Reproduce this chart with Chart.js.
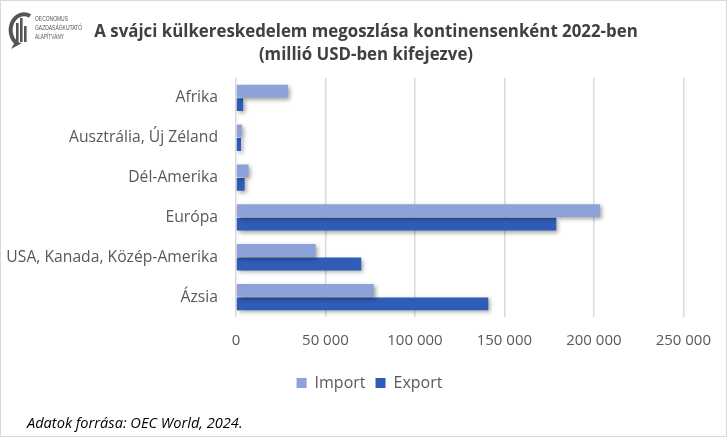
<!DOCTYPE html>
<html lang="hu">
<head>
<meta charset="utf-8">
<title>Svájci külkereskedelem</title>
<script src="https://cdn.jsdelivr.net/npm/chart.js@4"></script>
<style>
  html, body { margin: 0; padding: 0; background: #fff; }
  #wrap {
    position: relative;
    width: 725px;
    height: 435px;
    border: 1px solid #d9d9d9;
    font-family: "Open Sans", "Noto Sans", sans-serif;
  }
  #chart { position: absolute; left: 0; top: 0; }
  #logo { position: absolute; left: 0; top: 0; }
  #title {
    position: absolute;
    left: 0;
    width: 730px;
    top: 18px;
    text-align: center;
    font-weight: bold;
    font-size: 16.85px;
    line-height: 23px;
    color: #404040;
  }
  #source {
    position: absolute;
    left: 26px;
    top: 411px;
    font-style: italic;
    font-size: 14.6px;
    color: #000;
  }
</style>
</head>
<body>
<div id="wrap">
  <canvas id="chart" width="725" height="435"></canvas>
  <svg id="logo" width="100" height="52" viewBox="0 0 100 52">
    <path d="M29 15 A11.5 13.5 0 1 0 17 43" fill="none" stroke="#555" stroke-width="4"/>
    <rect x="15" y="22" width="2.6" height="19" fill="#555"/>
    <rect x="19" y="17" width="2.6" height="24" fill="#555"/>
    <rect x="23" y="25" width="2.6" height="16" fill="#555"/>
    <path d="M14 41 L10 48 L21 42 Z" fill="#555"/>
    <g font-size="7" fill="#555" font-family="Liberation Sans Narrow, Liberation Sans, sans-serif">
      <text x="34" y="20" textLength="33" lengthAdjust="spacingAndGlyphs">OECONOMUS</text>
      <text x="34" y="29" textLength="47" lengthAdjust="spacingAndGlyphs">GAZDASÁGKUTATÓ</text>
      <text x="34" y="38" textLength="29" lengthAdjust="spacingAndGlyphs">ALAPÍTVÁNY</text>
    </g>
  </svg>
  <div id="title">A svájci külkereskedelem megoszlása kontinensenként 2022-ben<br>(millió USD-ben kifejezve)</div>
  <div id="source">Adatok forrása: OEC World, 2024.</div>
</div>
<script>
// kategóriák (felülről lefelé)
const categories = ['Afrika', 'Ausztrália, Új Zéland', 'Dél-Amerika', 'Európa', 'USA, Kanada, Közép-Amerika', 'Ázsia'];
// értékek millió USD-ben
const importValues = [29000, 3300, 7000, 203500, 44500, 77000];
const exportValues = [4000, 2800, 4800, 179000, 70000, 141000];
const xTicks = [0, 50000, 100000, 150000, 200000, 250000];

const fmt = v => String(v).replace(/\B(?=(\d{3})+(?!\d))/g, ' ');
const baseFont = '"Open Sans", "Noto Sans", sans-serif';

// árnyék a sávok alá
const barShadow = {
  id: 'barShadow',
  beforeDatasetsDraw(chart) {
    const ctx = chart.ctx;
    ctx.save();
    ctx.shadowColor = 'rgba(0,0,0,0.35)';
    ctx.shadowBlur = 4;
    ctx.shadowOffsetX = 2;
    ctx.shadowOffsetY = 2;
  },
  afterDatasetsDraw(chart) {
    chart.ctx.restore();
  }
};

// a jelmagyarázat kicsit jobbra tolva (a teljes kép közepére)
const legendShift = {
  id: 'legendShift',
  afterLayout(chart) {
    if (chart.legend) {
      chart.legend.left += 26;
      chart.legend.right += 26;
    }
  }
};

const ctx = document.getElementById('chart').getContext('2d');
new Chart(ctx, {
  type: 'bar',
  data: {
    labels: categories,
    datasets: [
      {
        label: 'Import',
        data: importValues,
        backgroundColor: '#8ca2d8',
        categoryPercentage: 0.68,
        barPercentage: 0.95,
      },
      {
        label: 'Export',
        data: exportValues,
        backgroundColor: '#2f5cb6',
        categoryPercentage: 0.68,
        barPercentage: 0.95,
      },
    ],
  },
  options: {
    indexAxis: 'y',
    responsive: false,
    animation: false,
    layout: {
      padding: { top: 77, right: 40, bottom: 35, left: 0 },
    },
    plugins: {
      title: { display: false },
      legend: {
        position: 'bottom',
        labels: {
          boxWidth: 10,
          boxHeight: 10,
          color: '#595959',
          font: { family: baseFont, size: 16 },
          padding: 10,
        },
      },
      tooltip: { enabled: false },
    },
    scales: {
      x: {
        min: 0,
        max: 250000,
        afterBuildTicks: axis => {
          axis.ticks = xTicks.map(v => ({ value: v }));
        },
        ticks: {
          callback: v => fmt(v),
          color: '#595959',
          font: { family: baseFont, size: 15 },
          padding: 15,
        },
        grid: { color: '#d9d9d9', lineWidth: 1.5, drawTicks: false },
        border: { display: false },
      },
      y: {
        afterFit: axis => { axis.width = 235; },
        ticks: {
          color: '#595959',
          font: { family: baseFont, size: 15.7 },
          padding: 10,
        },
        grid: { display: false },
        border: { display: false },
      },
    },
  },
  plugins: [barShadow, legendShift],
});
</script>
</body>
</html>
